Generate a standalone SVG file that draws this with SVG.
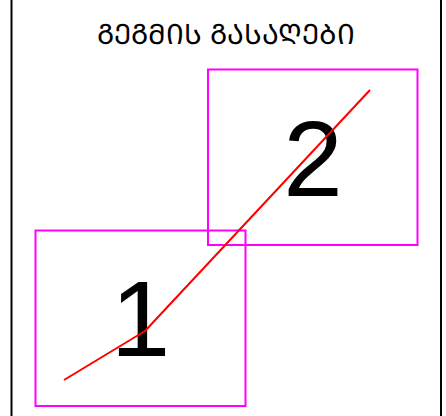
<svg xmlns="http://www.w3.org/2000/svg" width="446" height="416" viewBox="0 0 446 416">
<style>
.frame{stroke:#000;stroke-width:2;fill:none}
.box{fill:none;stroke:#ff00ff;stroke-width:2}
.num{font-family:"Liberation Sans",Arial,sans-serif;font-size:107px;fill:#000;text-anchor:middle}
.title{font-family:"DejaVu Serif",serif;font-size:28px;fill:#000;text-anchor:middle}
.route{fill:none;stroke:#ff0000;stroke-width:2;stroke-linejoin:round}
</style>
<rect width="446" height="416" fill="#fff"/>
<g id="frame">
<line class="frame" x1="11.5" y1="0" x2="11.5" y2="416"/>
<line class="frame" x1="441" y1="0" x2="441" y2="416"/>
</g>
<text class="title" x="226" y="44">ᲒᲔᲒᲛᲘᲡ ᲒᲐᲡᲐᲦᲔᲑᲘ</text>
<g id="node1">
<rect class="box" x="35.5" y="230.5" width="210" height="175.5"/>
<text class="num" x="140.5" y="356">1</text>
</g>
<g id="node2">
<rect class="box" x="208" y="69.5" width="209.5" height="175.5"/>
<text class="num" x="313" y="196">2</text>
</g>
<g id="connectors">
<polyline class="route" points="64,380 145,331 370,90"/>
</g>
</svg>
